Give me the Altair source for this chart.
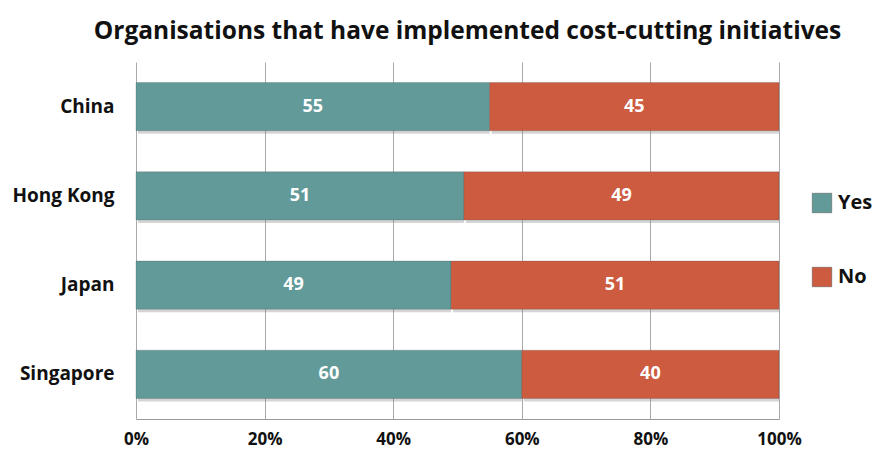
import altair as alt
import pandas as pd

countries = ["China", "Hong Kong", "Japan", "Singapore"]
yes_vals = [55, 51, 49, 60]
no_vals = [45, 49, 51, 40]
answers = ["Yes", "No"]
colors = ["#629a99", "#cc5b40"]
ticks = [0, 20, 40, 60, 80, 100]

rows = []
for c, y, n in zip(countries, yes_vals, no_vals):
    rows.append({"country": c, "answer": "Yes", "value": y, "ord": 0})
    rows.append({"country": c, "answer": "No", "value": n, "ord": 1})
df = pd.DataFrame(rows)

FONT = "Open Sans"

base = alt.Chart(df).transform_stack(
    stack="value", groupby=["country"], as_=["x0", "x1"],
    sort=[alt.SortField("ord", order="ascending")]
).transform_calculate(mid="(datum.x0 + datum.x1) / 2")

yenc = alt.Y("country:N", sort=countries, title=None,
             scale=alt.Scale(paddingInner=0.46, paddingOuter=0.23),
             axis=alt.Axis(labelFont=FONT, labelFontWeight="bold", labelFontSize=19,
                           labelColor="#111", labelPadding=22, ticks=False, domain=False))
xscale = alt.Scale(domain=[0, 100], nice=False)

shadow = base.mark_bar(color="#888", opacity=0.35, xOffset=2, yOffset=3).encode(
    x=alt.X("x0:Q", scale=xscale), x2="x1:Q", y=yenc)

bars = base.mark_bar(stroke="#4a4a4a", strokeWidth=0.6, strokeOpacity=0.4).encode(
    x=alt.X("x0:Q", scale=xscale, title=None,
            axis=alt.Axis(values=ticks, labelExpr="datum.value + '%'",
                          labelFont=FONT, labelFontWeight="bold", labelFontSize=17,
                          labelColor="#111", labelPadding=12, labelFlush=False,
                          ticks=False, domainColor="#999", grid=True, gridColor="#aaa")),
    x2="x1:Q",
    y=yenc,
    color=alt.Color("answer:N", sort=answers,
                    scale=alt.Scale(domain=answers, range=colors),
                    legend=alt.Legend(title=None, orient="none", legendX=676, legendY=131,
                                      symbolType="square", symbolSize=380,
                                      symbolStrokeColor="#555", symbolStrokeWidth=0.5,
                                      labelFont=FONT, labelFontWeight="bold",
                                      labelFontSize=20, labelColor="#111",
                                      rowPadding=52, labelOffset=6)),
)

labels = base.mark_text(color="white", font=FONT, fontWeight="bold", fontSize=18).encode(
    x=alt.X("mid:Q", scale=xscale), y=alt.Y("country:N", sort=countries), text="value:Q")

chart = alt.layer(shadow, bars, labels).properties(
    width=643, height=357,
    title=alt.TitleParams("Organisations that have implemented cost-cutting initiatives",
                          font=FONT, fontSize=24.5, fontWeight="bold", color="#111",
                          anchor="middle", dx=10, offset=18),
    padding={"left": 128, "top": 54, "right": 100, "bottom": 40},
    autosize=alt.AutoSizeParams(type="none"),
).configure_view(stroke=None).configure_axis(gridColor="#aaa")

chart.save("out.html", embed_options={"renderer": "svg", "actions": False})
